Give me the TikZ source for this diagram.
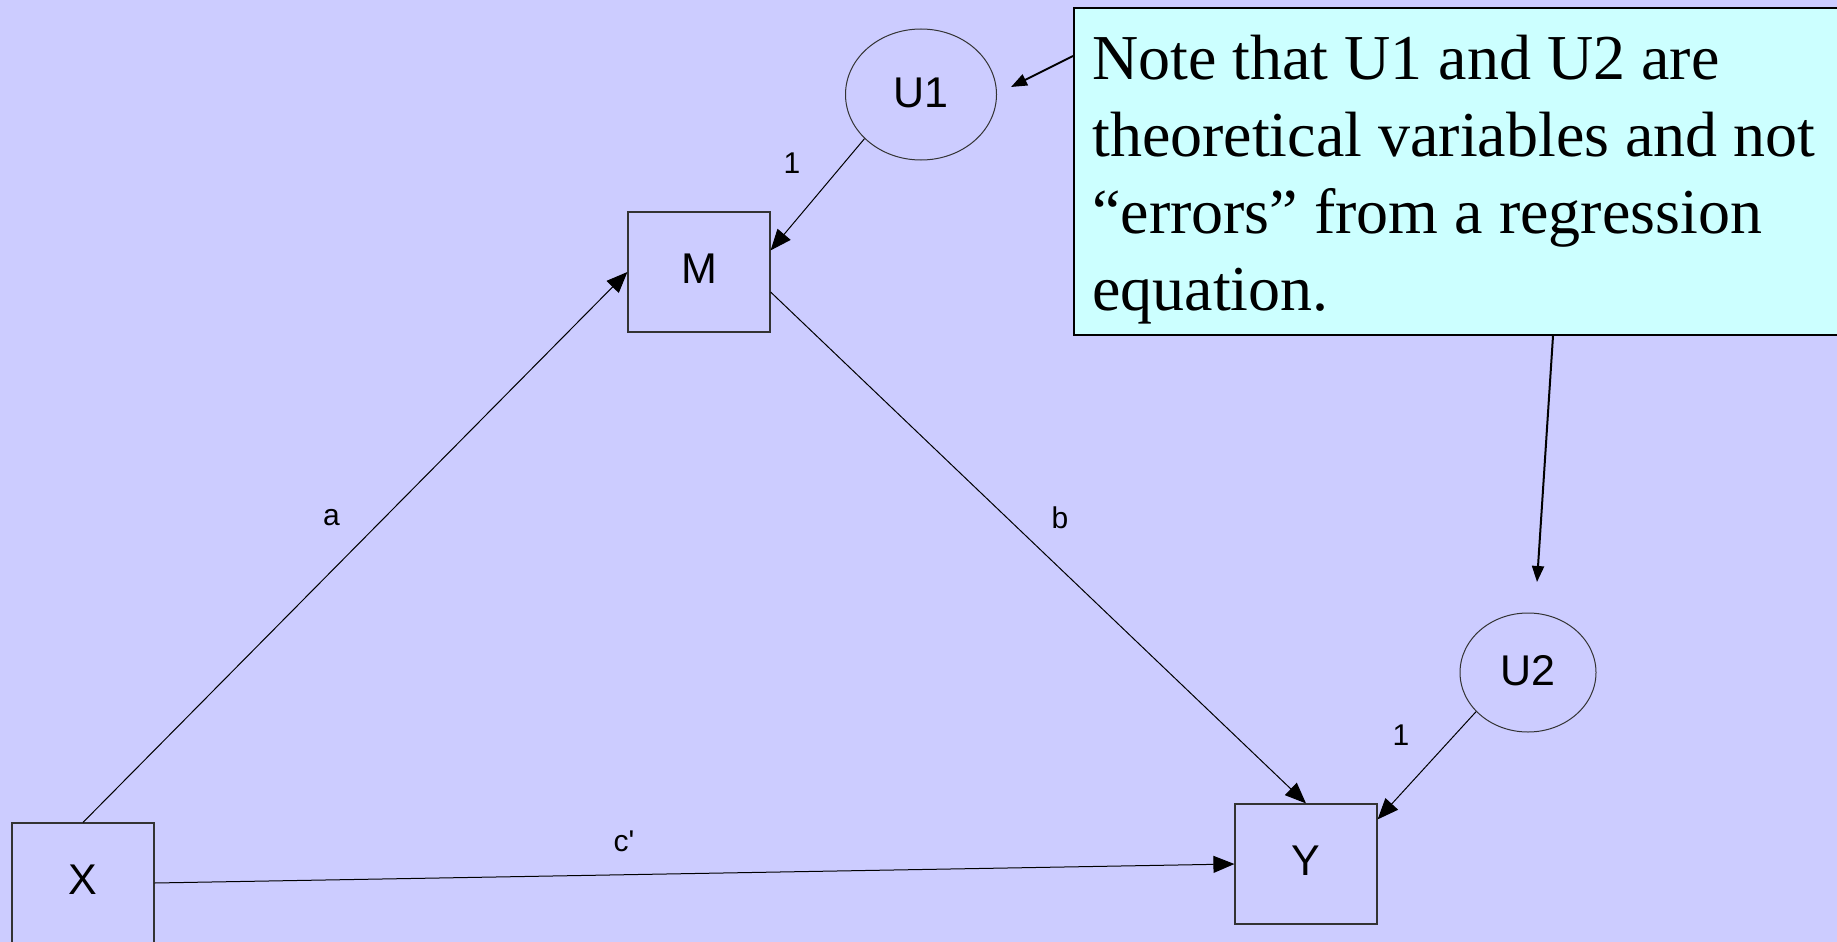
\documentclass[tikz,border=0pt]{standalone}
\usepackage{fontspec}
\setmainfont{Liberation Serif}
\newfontfamily\arial{Liberation Sans}
\usetikzlibrary{arrows.meta,shapes.geometric,calc}
\definecolor{bg}{HTML}{CCCCFF}
\definecolor{notefill}{HTML}{CCFFFF}
\begin{document}
\begin{tikzpicture}[x=1pt,y=-1pt,
  box/.style={draw=black!80, line width=1.2pt, rectangle, minimum width=142pt, minimum height=120pt, inner sep=0pt, text height=31pt, text depth=8pt, font=\arial\fontsize{43}{43}\selectfont},
  latent/.style={draw=black!80, line width=1pt, ellipse, inner sep=0pt, text height=31pt, text depth=6pt, font=\arial\fontsize{43}{43}\selectfont},
  pathedge/.style={line width=1pt, -{Triangle[length=21pt,width=17pt]}},
  noteline/.style={line width=2pt, -{Triangle[length=16pt,width=12pt]}},
  lab/.style={font=\arial\fontsize{30}{30}\selectfont, inner sep=0pt}]
\useasboundingbox (0,0) rectangle (1837,942);
\fill[bg] (0,0) rectangle (1837,942);
\node[box] (M) at (699,272) {M};
\node[box] (X) at (83,883) {X};
\node[box] (Y) at (1306,864) {Y};
\node[latent, minimum width=151pt, minimum height=131pt] (U1) at (921,94.5) {U1};
\node[latent, minimum width=136pt, minimum height=119pt] (U2) at (1528,672.5) {U2};
\node[draw=black, line width=2pt, fill=notefill, minimum width=780pt, minimum height=327pt, anchor=north west, inner sep=0pt] (note) at (1073,7) {};
\node[anchor=north west, inner sep=0pt, align=left, font=\fontsize{64}{77}\selectfont] (notetext) at (1092,35) {Note that U1 and U2 are\\theoretical variables and not\\“errors” from a regression\\equation.};
\draw[pathedge] (X.north) -- (M.west);
\draw[pathedge] ($(M.east)+(0,20)$) -- (Y.north);
\draw[pathedge] (X.east) -- (Y.west);
\draw[pathedge] (U1.218) -- ($(M.north east)+(0,39)$);
\draw[pathedge] (U2.217) -- ($(Y.north east)+(0,16)$);
\node[lab] (la) at (331.5,518) {a};
\node[lab] (lb) at (1060,518) {b};
\node[lab] (lc) at (624,841) {c\textquotesingle};
\node[lab] (l1) at (792,163) {1};
\node[lab] (l2) at (1401,735) {1};
\coordinate (t1) at (1011,87);
\draw[noteline] ($(note.north west)+(0,49)$) -- (t1);
\coordinate (t2) at (1537,582);
\draw[noteline] ($(note.south west)+(480,0)$) -- (t2);
\end{tikzpicture}
\end{document}
